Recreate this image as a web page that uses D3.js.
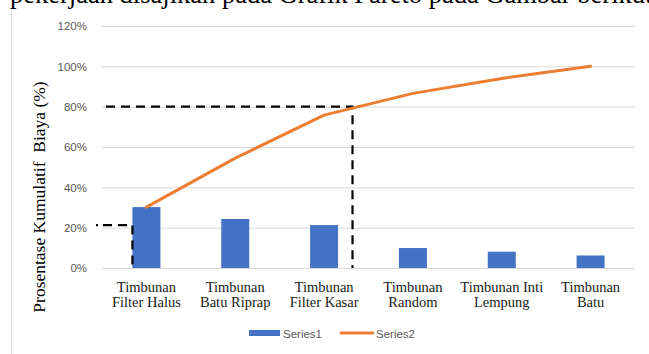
<!DOCTYPE html>
<html>
<head>
<meta charset="utf-8">
<script src="https://cdn.jsdelivr.net/npm/d3@7"></script>
<style>
  html, body { margin: 0; padding: 0; background: #fff; }
  svg { display: block; }
</style>
</head>
<body>
<svg id="chart" width="649" height="354"></svg>
<script>
// Pareto chart of construction cost items
const categories = [
  ["Timbunan", "Filter Halus"],
  ["Timbunan", "Batu Riprap"],
  ["Timbunan", "Filter Kasar"],
  ["Timbunan", "Random"],
  ["Timbunan Inti", "Lempung"],
  ["Timbunan", "Batu"]
];
const series1 = [30.2, 24.3, 21.3, 9.9, 8.1, 6.2];       // share of cost (%)
const series2 = [30.2, 54.5, 75.8, 86.6, 94.0, 100.0];    // cumulative share (%)
const yTicks = [0, 20, 40, 60, 80, 100, 120];
const seriesNames = ["Series1", "Series2"];

// guide lines: 80% threshold meeting the cumulative curve, and a short marker at the first item
const guide80 = { value: 80, band: 2, offset: 0.32 };
const guideLow = { value: 21.3 };

const W = 649, H = 354;
const svg = d3.select("#chart");

const blue = "#4472C4", orange = "#ED7D31", grid = "#D9D9D9", tickGrey = "#595959";

// caption line of the surrounding page
svg.append("text")
  .attr("x", 10).attr("y", 2.5)
  .attr("font-family", "'Liberation Serif', 'Times New Roman', serif")
  .attr("font-size", 26.5)
  .attr("fill", "#000")
  .text("pekerjaan disajikan pada Grafik Pareto pada Gambar berikut.");

// chart frame (left edge)
svg.append("line")
  .attr("x1", 11.5).attr("x2", 11.5)
  .attr("y1", 11).attr("y2", H)
  .attr("stroke", grid).attr("stroke-width", 1);

const x = d3.scaleBand()
  .domain(d3.range(categories.length))
  .range([102, 635])
  .paddingInner(0).paddingOuter(0);

const y = d3.scaleLinear().domain([0, 120]).range([268, 26]);

// gridlines
svg.append("g")
  .selectAll("line")
  .data(yTicks)
  .join("line")
  .attr("x1", 102).attr("x2", 635)
  .attr("y1", d => y(d) + 0.5).attr("y2", d => y(d) + 0.5)
  .attr("stroke", grid).attr("stroke-width", 1);

// y axis labels
const yAxis = d3.axisLeft(y).tickValues(yTicks).tickFormat(d => d + "%").tickSize(0).tickPadding(0);
const yg = svg.append("g").attr("transform", "translate(87,0)").call(yAxis);
yg.select(".domain").remove();
yg.selectAll("text")
  .attr("font-family", "'Liberation Sans', Arial, sans-serif")
  .attr("font-size", 11.5)
  .attr("fill", tickGrey);

// y axis title
svg.append("text")
  .attr("transform", "translate(45,197) rotate(-90)")
  .attr("text-anchor", "middle")
  .attr("font-family", "'Liberation Serif', 'Times New Roman', serif")
  .attr("font-size", 17.5)
  .attr("fill", "#000")
  .attr("xml:space", "preserve")
  .text("Prosentase Kumulatif  Biaya (%)");

// bars
const barW = x.bandwidth() * 0.315;
svg.append("g")
  .selectAll("rect")
  .data(series1)
  .join("rect")
  .attr("x", (d, i) => x(i) + x.bandwidth() / 2 - barW / 2)
  .attr("y", d => y(d))
  .attr("width", barW)
  .attr("height", d => y(0) - y(d))
  .attr("fill", blue);

// category labels
const xl = svg.append("g");
categories.forEach((lines, i) => {
  const t = xl.append("text")
    .attr("x", x(i) + x.bandwidth() / 2)
    .attr("y", 292)
    .attr("text-anchor", "middle")
    .attr("font-family", "'Liberation Serif', 'Times New Roman', serif")
    .attr("font-size", 14.5)
    .attr("fill", "#1a1a1a");
  lines.forEach((s, k) => {
    t.append("tspan")
      .attr("x", x(i) + x.bandwidth() / 2)
      .attr("dy", k === 0 ? 0 : 15)
      .text(s);
  });
});

// dashed guides
const dash = "9,6";
const gx80 = x(guide80.band) + x.bandwidth() * (0.5 + guide80.offset);
svg.append("path")
  .attr("d", `M106,${y(guide80.value)}H${gx80}V${y(0)}`)
  .attr("fill", "none").attr("stroke", "#000")
  .attr("stroke-width", 2.2).attr("stroke-dasharray", dash);

const gxLow = x(0) + x.bandwidth() / 2 - barW / 2;
svg.append("path")
  .attr("d", `M96,${y(guideLow.value)}H${gxLow}V${y(0)}`)
  .attr("fill", "none").attr("stroke", "#000")
  .attr("stroke-width", 2.2).attr("stroke-dasharray", "2,5,9,6,9,6,9,6,9,6,9,6,9,6");

// cumulative line
const line = d3.line()
  .x((d, i) => x(i) + x.bandwidth() / 2)
  .y(d => y(d));
svg.append("path")
  .datum(series2)
  .attr("d", line)
  .attr("fill", "none")
  .attr("stroke", orange)
  .attr("stroke-width", 3)
  .attr("stroke-linecap", "round")
  .attr("stroke-linejoin", "round");

// legend
const lg = svg.append("g").attr("font-family", "'Liberation Sans', Arial, sans-serif")
  .attr("font-size", 11.5).attr("fill", tickGrey);
lg.append("rect").attr("x", 249).attr("y", 330).attr("width", 31).attr("height", 6).attr("fill", blue);
lg.append("text").attr("x", 283).attr("y", 337.5).text(seriesNames[0]);
lg.append("line").attr("x1", 341).attr("x2", 373).attr("y1", 333).attr("y2", 333)
  .attr("stroke", orange).attr("stroke-width", 3).attr("stroke-linecap", "round");
lg.append("text").attr("x", 376).attr("y", 337.5).text(seriesNames[1]);
</script>
</body>
</html>
